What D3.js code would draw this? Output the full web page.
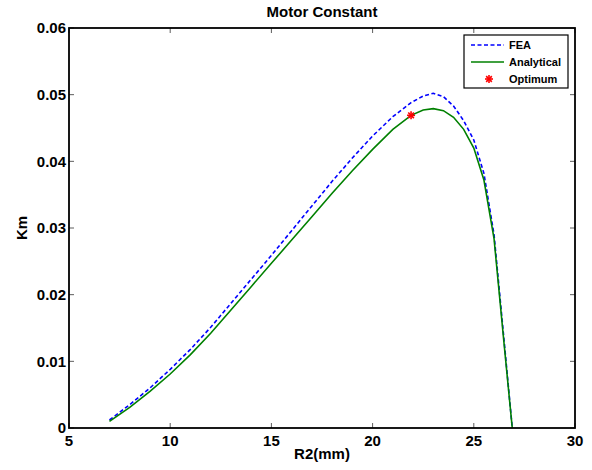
<!DOCTYPE html>
<html><head><meta charset="utf-8">
<script src="https://cdn.jsdelivr.net/npm/d3@7"></script>
<style>body{margin:0;background:#fff}svg{display:block}text{font-family:"Liberation Sans",Arial,sans-serif;font-weight:bold}</style>
</head><body>
<script>
const r2 = [7, 8, 9, 10, 11, 12, 13, 14, 15, 16, 17, 18, 19, 20, 21, 21.9, 22.5, 23, 23.5, 24, 24.5, 25, 25.5, 26, 26.5, 26.9];
const fea = [0.0012, 0.0035, 0.0060, 0.0088, 0.0118, 0.0151, 0.0187, 0.0223, 0.0259, 0.0296, 0.0333, 0.0370, 0.0405, 0.0438, 0.0467, 0.0488, 0.0498, 0.0502, 0.0497, 0.0483, 0.0461, 0.0432, 0.0382, 0.0290, 0.0130, 0.0];
const analytical = [0.0010, 0.0031, 0.0055, 0.0081, 0.0110, 0.0142, 0.0177, 0.0212, 0.0247, 0.0282, 0.0317, 0.0352, 0.0386, 0.0418, 0.0448, 0.0469, 0.0477, 0.0479, 0.0476, 0.0466, 0.0448, 0.0420, 0.0372, 0.0284, 0.0125, 0.0];
const optimum = [21.9, 0.0469];
const xTicks = [5, 10, 15, 20, 25, 30];
const yTicks = [0, 0.01, 0.02, 0.03, 0.04, 0.05, 0.06];
const seriesNames = ["FEA", "Analytical", "Optimum"];

const W = 592, H = 470;
const m = {l: 69, r: 17, t: 28, b: 42};
const svg = d3.select("body").append("svg").attr("width", W).attr("height", H);
const x = d3.scaleLinear().domain([5, 30]).range([m.l, W - m.r]);
const y = d3.scaleLinear().domain([0, 0.06]).range([H - m.b, m.t]);

const fmtY = d => d === 0 ? "0" : d3.format(".2f")(d);
const tl = 5;
const g = svg.append("g");
xTicks.forEach(v => {
  g.append("line").attr("x1", x(v)).attr("x2", x(v)).attr("y1", y(0)).attr("y2", y(0) - tl).attr("stroke", "#333").attr("stroke-width", 0.8);
  g.append("line").attr("x1", x(v)).attr("x2", x(v)).attr("y1", y(0.06)).attr("y2", y(0.06) + tl).attr("stroke", "#333").attr("stroke-width", 0.8);
  g.append("text").attr("x", x(v)).attr("y", y(0) + 18).attr("text-anchor", "middle").attr("font-size", 15).text(v);
});
yTicks.forEach(v => {
  g.append("line").attr("x1", x(5)).attr("x2", x(5) + tl).attr("y1", y(v)).attr("y2", y(v)).attr("stroke", "#333").attr("stroke-width", 0.8);
  g.append("line").attr("x1", x(30)).attr("x2", x(30) - tl).attr("y1", y(v)).attr("y2", y(v)).attr("stroke", "#333").attr("stroke-width", 0.8);
  g.append("text").attr("x", x(5) - 3).attr("y", y(v)).attr("dy", "0.36em").attr("text-anchor", "end").attr("font-size", 15).text(fmtY(v));
});

const line = d3.line().x((d, i) => x(r2[i])).y(d => y(d));
svg.append("path").datum(fea).attr("d", line).attr("fill", "none").attr("stroke", "#0000ff").attr("stroke-width", 1.6).attr("stroke-dasharray", "4,2.5");
svg.append("path").datum(analytical).attr("d", line).attr("fill", "none").attr("stroke", "#008000").attr("stroke-width", 1.6);

function star(sel, cx, cy, s) {
  const gg = sel.append("g").attr("transform", `translate(${cx},${cy})`).attr("stroke", "#ff0000").attr("stroke-width", 1.6);
  [0, 45, 90, 135].forEach(a => {
    const r = a * Math.PI / 180;
    gg.append("line").attr("x1", -s * Math.cos(r)).attr("y1", -s * Math.sin(r)).attr("x2", s * Math.cos(r)).attr("y2", s * Math.sin(r));
  });
}
star(svg, x(optimum[0]), y(optimum[1]), 4);

svg.append("rect").attr("x", x(5)).attr("y", y(0.06)).attr("width", x(30) - x(5)).attr("height", y(0) - y(0.06)).attr("fill", "none").attr("stroke", "#000").attr("stroke-width", 1.8);

svg.append("text").attr("x", (x(5) + x(30)) / 2).attr("y", 17).attr("text-anchor", "middle").attr("font-size", 15).text("Motor Constant");
svg.append("text").attr("x", (x(5) + x(30)) / 2).attr("y", 459).attr("text-anchor", "middle").attr("font-size", 15).text("R2(mm)");
svg.append("text").attr("transform", `translate(27,${(y(0) + y(0.06)) / 2}) rotate(-90)`).attr("text-anchor", "middle").attr("font-size", 15).text("Km");

const lg = svg.append("g");
lg.append("rect").attr("x", 464).attr("y", 35).attr("width", 104).attr("height", 53).attr("fill", "#fff").attr("stroke", "#000").attr("stroke-width", 1.2);
const ly = [45, 62, 79];
lg.append("line").attr("x1", 471).attr("x2", 504).attr("y1", ly[0]).attr("y2", ly[0]).attr("stroke", "#0000ff").attr("stroke-width", 1.6).attr("stroke-dasharray", "4,2.5");
lg.append("line").attr("x1", 471).attr("x2", 504).attr("y1", ly[1]).attr("y2", ly[1]).attr("stroke", "#008000").attr("stroke-width", 1.6);
star(lg, 489, ly[2], 4);
seriesNames.forEach((n, i) => {
  lg.append("text").attr("x", 509).attr("y", ly[i]).attr("dy", "0.36em").attr("font-size", 11).text(n);
});
</script>
</body></html>
